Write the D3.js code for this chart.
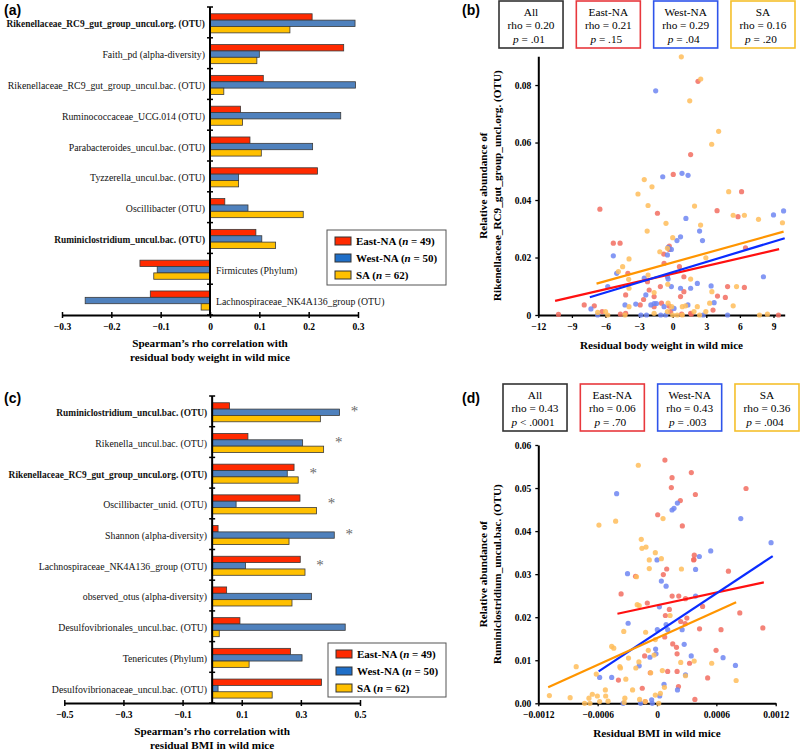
<!DOCTYPE html>
<html>
<head>
<meta charset="utf-8">
<script src="https://cdn.jsdelivr.net/npm/d3@7"></script>
<style>
  body { margin: 0; background: #fff; }
  svg { display: block; }
  text { font-family: "Liberation Serif", "Times New Roman", Times, serif; }
  .plab { font-family: "Liberation Sans", Arial, sans-serif; font-weight: bold; font-size: 14px; }
</style>
</head>
<body>
<svg id="fig" width="800" height="750"></svg>
<script>
// ---------- shared ----------
const groupNames = ["East-NA", "West-NA", "SA"];
const groupN = [49, 50, 62];

// ---------- (a) rho with residual body weight ----------
const aCategories = [
  "Rikenellaceae_RC9_gut_group_uncul.org. (OTU)",
  "Faith_pd (alpha-diversity)",
  "Rikenellaceae_RC9_gut_group_uncul.bac. (OTU)",
  "Ruminococcaceae_UCG.014 (OTU)",
  "Parabacteroides_uncul.bac. (OTU)",
  "Tyzzerella_uncul.bac. (OTU)",
  "Oscillibacter (OTU)",
  "Ruminiclostridium_uncul.bac. (OTU)",
  "Firmicutes (Phylum)",
  "Lachnospiraceae_NK4A136_group (OTU)"
];
const aBold = [1, 0, 0, 0, 0, 0, 0, 1, 0, 0];
const aEast = [0.207, 0.271, 0.108, 0.062, 0.081, 0.218, 0.030, 0.093, -0.142, -0.121];
const aWest = [0.294, 0.100, 0.295, 0.265, 0.208, 0.058, 0.077, 0.105, -0.107, -0.253];
const aSA   = [0.162, 0.095, 0.028, 0.066, 0.104, 0.058, 0.189, 0.133, -0.114, -0.018];
const aTicks = [-0.3, -0.2, -0.1, 0, 0.1, 0.2, 0.3];

// ---------- (c) rho with residual BMI ----------
const cCategories = [
  "Ruminiclostridium_uncul.bac. (OTU)",
  "Rikenella_uncul.bac. (OTU)",
  "Rikenellaceae_RC9_gut_group_uncul.org. (OTU)",
  "Oscillibacter_unid. (OTU)",
  "Shannon (alpha-diversity)",
  "Lachnospiraceae_NK4A136_group (OTU)",
  "observed_otus (alpha-diversity)",
  "Desulfovibrionales_uncul.bac. (OTU)",
  "Tenericutes (Phylum)",
  "Desulfovibrionaceae_uncul.bac. (OTU)"
];
const cBold = [1, 0, 1, 0, 0, 0, 0, 0, 0, 0];
const cStars = [1, 1, 1, 1, 1, 1, 0, 0, 0, 0];
const cEast = [0.059, 0.121, 0.277, 0.297, 0.020, 0.298, 0.049, 0.094, 0.265, 0.370];
const cWest = [0.431, 0.306, 0.254, 0.081, 0.413, 0.113, 0.336, 0.450, 0.304, 0.020];
const cSA   = [0.366, 0.377, 0.291, 0.353, 0.260, 0.314, 0.270, 0.024, 0.125, 0.203];
const cTicks = [-0.5, -0.3, -0.1, 0.1, 0.3, 0.5];

// ---------- stat boxes ----------
const statNames = ["All", "East-NA", "West-NA", "SA"];
const bRho = ["0.20", "0.21", "0.29", "0.16"];
const bP   = ["= .01", "= .15", "= .04", "= .20"];
const dRho = ["0.43", "0.06", "0.43", "0.36"];
const dP   = ["< .0001", "= .70", "= .003", "= .004"];

// ---------- (b) scatter: residual body weight vs Rikenellaceae RC9 ----------
const bEastPts = [[-10.2,0.0002],[-7.9,0.0035],[-7.0,0.0032],[-6.5,0.0368],[-6.3,0.0012],[-5.3,0.025],[-4.7,0.025],
  [-4.67,0.0003],[-4.2,0.0006],[-4.2,0.007],[-4.0,0.0145],[-2.9,0.0035],[-2.6,0.0054],[-2.25,0.0116],[-2.1,0.0087],
  [-1.66,0.0029],[-1.66,0.0064],[-1.36,0.0354],[-1.1,0.0099],[-1.0,0.0041],[-0.8,0.0212],[-0.77,0.018],[-0.33,0.0031],
  [-0.3,0.024],[-0.3,0.0228],[-0.18,0.0012],[0.05,0.0489],[0.6,0.0168],[0.7,0.0064],[0.8,0.0003],[1.0,0.0133],
  [1.0,0.0081],[1.6,0.0558],[1.6,0.0006],[1.66,0.0003],[2.26,0.0813],[3.6,0.0017],[3.96,0.0363],[4.0,0.0066],
  [4.7,0.0061],[4.9,0.0099],[5.83,0.0342],[6.15,0.0429],[6.4,0.0096],[6.5,0.0234],[9.44,0.0]];
const bWestPts = [[-7.3,0.0021],[-6.7,0],[-5.8,0.0099],[-5.3,0.0206],[-5.0,0.0145],[-4.26,0.0035],[-3.3,0.0038],
  [-2.84,0],[-2.54,0.0128],[-2.4,0.007],[-2.34,0],[-1.95,0.0035],[-1.66,0.004],[-1.45,0.004],[-1.52,0.078],[-1.07,0],
  [-0.89,0.0481],[-0.77,0.0029],[-0.62,0],[-0.47,0.0209],[-0.47,0.0133],[-0.41,0.0235],[-0.41,0.0125],[-0.12,0.0228],
  [-0.12,0.0099],[0.12,0.0023],[0.38,0.0259],[0.7,0.0272],[0.7,0.0093],[0.83,0.0493],[1.18,0.0336],[1.36,0.0035],
  [1.37,0.0486],[1.6,0.0093],[2.2,0.011],[2.4,0.0292],[2.66,0.0259],[2.72,0],[3.43,0.0101],[3.7,0.0043],[4.9,0],
  [8.1,0.0133],[9.0,0.0348],[9.9,0.0362]];
const bSAPts = [[-6.7,0.0009],[-6.0,0.0012],[-5.8,0],[-4.85,0.0151],[-4.47,0.0168],[-4.26,0],[-3.93,0.0124],
  [-3.9,0.0195],[-3.9,0.0093],[-3.9,0.0029],[-3.1,0.0421],[-2.54,0.0471],[-2.28,0.0292],[-2.2,0.0381],[-2.2,0.0139],
  [-1.85,0.0446],[-1.66,0.0078],[-1.66,0.0006],[-1.15,0.022],[-0.6,0.0319],[-0.47,0.0232],[-0.47,0.0012],
  [-0.44,0.0107],[-0.41,0.0041],[-0.09,0.0029],[0,0.0269],[0,0],[0.4,0],[0.77,0.0898],[0.86,0.0029],[0.86,0],
  [1.15,0.0032],[1.52,0.0745],[1.6,0.0125],[1.9,0.0012],[1.95,0.0379],[2.2,0.0029],[2.4,0],[2.49,0.0313],
  [2.5,0.0821],[2.96,0.0199],[2.96,0.0012],[3.3,0.0041],[3.48,0.0594],[3.5,0.0081],[4.1,0.0639],[5.0,0.0429],
  [5.4,0.0347],[5.4,0.0032],[5.7,0.0099],[6.4,0.0347],[7.66,0.0333],[7.75,0],[8.46,0.0003],[9.8,0.0321]];
const bEastFit = [[-10.5, 0.0049], [9.5, 0.0229]];
const bWestFit = [[-7.4, 0.0062], [10.0, 0.0267]];
const bSAFit   = [[-6.8, 0.0109], [9.9, 0.0290]];
const bXTicks = [-12, -9, -6, -3, 0, 3, 6, 9];
const bYTicks = [0, 0.02, 0.04, 0.06, 0.08];

// ---------- (d) scatter: residual BMI vs Ruminiclostridium ----------
const dEastPts = [[0.00008,0.0565],[0.000347,0.0536],[0.000152,0.0524],[0.000145,0.0501],[0.000388,0.0485],
  [0.0009,0.0499],[0.000236,0.0471],[0.000007,0.0438],[0.000256,0.0412],[0.000377,0.0344],[0.000371,0.0333],
  [-0.000217,0.0295],[0.000064,0.0299],[0.000098,0.0312],[0.000373,0.0334],[0.000722,0.0307],[-0.000363,0.0254],
  [-0.000098,0.0233],[0.000125,0.0218],[0.000153,0.0249],[0.00022,0.0249],[0.000288,0.0243],[0.000461,0.0225],
  [0.000837,0.021],[0.000085,0.0204],[0.00024,0.019],[0.000302,0.0198],[0.000285,0.0185],[0.00043,0.0173],
  [0.000647,0.0171],[0.00107,0.0175],[0.000078,0.0154],[0.000159,0.0138],[0.000197,0.013],[-0.000125,0.011],
  [0.000203,0.0115],[0.000329,0.0093],[0.000597,0.0123],[0.000512,0.0059],[0.000108,0.0074],[0.000203,0.0074],
  [-0.000068,0.0071],[-0.00039,0.0054],[-0.000149,0.0035],[0.000217,0.0039],[0.000383,0.0009],[-0.000119,0.0004]];
const dWestPts = [[-0.000408,0.0487],[0.000206,0.0465],[0.000172,0.0453],[0.000152,0.0449],[0.000847,0.0429],
  [0,0.0333],[0.000428,0.0341],[0.000543,0.0354],[0.001153,0.0373],[-0.000298,0.0301],[0.000044,0.0284],
  [0.000092,0.0272],[0.00039,0.0311],[-0.000292,0.0186],[0.000024,0.0224],[0.00039,0.0249],[0.000092,0.0183],
  [0.000254,0.0171],[0.000108,0.0171],[0.000003,0.0171],[-0.000014,0.0126],[-0.000071,0.0107],[-0.00001,0.0115],
  [0.000275,0.0137],[0.000346,0.011],[0.000668,0.0106],[0.000793,0.0088],[0.000288,0.0066],[-0.00018,0.0087],
  [-0.000458,0.006],[-0.00058,0.006],[-0.000342,0],[-0.000166,0],[-0.000054,0.0008],[-0.000048,0],
  [0.000027,0.0017],[0.000071,0.0044],[0.000207,0.0031]];
const dSAPts = [[-0.000189,0.0553],[0.000061,0.0429],[-0.000587,0.0414],[-0.000418,0.0423],[-0.000159,0.0381],
  [-0.000152,0.036],[-0.000111,0.0363],[-0.000017,0.035],[-0.000078,0.0333],[0.000044,0.0336],[-0.000207,0.0294],
  [0.000247,0.0312],[-0.000078,0.0313],[-0.0002,0.0229],[-0.00018,0.0227],[0.000132,0.0204],[-0.000336,0.0167],
  [-0.000115,0.0165],[-0.000017,0.0148],[-0.000458,0.0132],[-0.000437,0.0128],[-0.000288,0.0105],[-0.000088,0.0123],
  [-0.00003,0.0112],[0.000376,0.0098],[0.00024,0.0095],[0.000553,0.0093],[0.0008,0.0053],[0.000288,0.0064],
  [0.000054,0.0076],[-0.000064,0.0071],[-0.000183,0.0096],[-0.000214,0.0082],[-0.000376,0.0085],[-0.000369,0.0082],
  [-0.000315,0.0056],[-0.000817,0.0085],[-0.000614,0.0068],[-0.001088,0.0018],[-0.000878,0.0013],[-0.000732,0],
  [-0.000678,0],[-0.000654,0.0021],[-0.000688,0.0012],[-0.000603,0.0017],[-0.00058,0.0004],[-0.000522,0.0031],
  [-0.000519,0.0017],[-0.000495,0.0005],[-0.000325,0.0012],[-0.000332,0.0002],[-0.000247,0.0031],[-0.000176,0.0009],
  [-0.000119,0.0004],[-0.000017,0.0019],[0.000034,0.0023],[0.000075,0.0037],[0.000017,0]];
const dEastFit = [[-0.0004, 0.0208], [0.00108, 0.0281]];
const dWestFit = [[-0.00059, 0.0074], [0.00117, 0.0342]];
const dSAFit   = [[-0.0011, 0.0037], [0.0008, 0.0235]];
const dXTicks = [-0.0012, -0.0006, 0, 0.0006, 0.0012];
const dYTicks = [0, 0.01, 0.02, 0.03, 0.04, 0.05, 0.06];

// ---------- styles ----------
const serif = '"Liberation Serif","Times New Roman",Times,serif';
const barFill = ["#ff2a00", "#4f81bd", "#ffc000"];
const legendFill = ["#ff2a00", "#1f6fc8", "#ffc000"];
const dotFill = ["#f26d60", "#6f86f2", "#ffbd5a"];
const lineColor = ["#ff1010", "#0a2cff", "#ff9500"];
const boxStroke = ["#333333", "#e8383d", "#2f54eb", "#f5c02c"];

const svg = d3.select("#fig");
svg.append("rect").attr("width", 800).attr("height", 750).attr("fill", "#fff");

function barPanel(o) {
  const g = svg.append("g");
  const x = d3.scaleLinear().domain(o.xDomain).range(o.xRange);
  const y = d3.scaleBand().domain(o.categories).range(o.yRange);
  const yi = d3.scaleBand().domain(groupNames)
    .range([y.bandwidth() * 0.22, y.bandwidth() * 0.84]);
  const series = [o.east, o.west, o.sa];

  const cells = [];
  o.categories.forEach((c, i) => series.forEach((s, k) => cells.push({c: c, k: k, v: s[i]})));

  g.append("g").selectAll("rect").data(cells).join("rect")
    .attr("x", d => x(Math.min(0, d.v)))
    .attr("y", d => y(d.c) + yi(groupNames[d.k]))
    .attr("width", d => Math.abs(x(d.v) - x(0)))
    .attr("height", yi.bandwidth())
    .attr("fill", d => barFill[d.k])
    .attr("stroke", "#3a3a3a")
    .attr("stroke-width", 0.8);

  // category labels, on the right of the axis when every bar is negative
  const neg = i => Math.max(o.east[i], o.west[i], o.sa[i]) < 0;
  g.append("g").selectAll("text").data(o.categories).join("text")
    .attr("x", (d, i) => neg(i) ? x(0) + 6 : x(0) - 5)
    .attr("y", d => y(d) + y.bandwidth() / 2 + 1.5)
    .attr("dy", "0.35em")
    .attr("text-anchor", (d, i) => neg(i) ? "start" : "end")
    .attr("font-weight", (d, i) => o.bold[i] ? "bold" : "normal")
    .attr("font-size", (d, i) => o.bold[i] ? 9.4 : 9.8)
    .attr("fill", "#111")
    .text(d => d);

  // significance stars
  if (o.stars) {
    g.append("g").selectAll("text")
      .data(o.categories.filter((c, i) => o.stars[i]))
      .join("text")
      .attr("x", d => {
        const i = o.categories.indexOf(d);
        return x(Math.max(o.east[i], o.west[i], o.sa[i])) + 15;
      })
      .attr("y", d => y(d) + y.bandwidth() / 2 + 5)
      .attr("text-anchor", "middle")
      .attr("font-family", serif)
      .attr("font-size", 15)
      .attr("fill", "#6a6a6a")
      .text("*");
  }

  // x axis
  const ax = g.append("g")
    .attr("transform", `translate(0,${o.yRange[1]})`)
    .call(d3.axisBottom(x).tickValues(o.ticks).tickFormat(o.fmt).tickSize(3).tickSizeOuter(0));
  ax.attr("font-family", serif).attr("font-size", 9.5).attr("font-weight", "bold");
  ax.select(".domain").attr("stroke", "#000").attr("stroke-width", 2);
  ax.selectAll(".tick line").attr("y1", -3).attr("y2", 3).attr("stroke-width", 1.5);
  ax.selectAll(".tick text").attr("y", 8.5).attr("fill", "#000");

  // vertical axis at zero with group separators
  g.append("line")
    .attr("x1", x(0)).attr("x2", x(0))
    .attr("y1", o.yRange[0]).attr("y2", o.yRange[1])
    .attr("stroke", "#000").attr("stroke-width", 2);
  const seps = o.categories.map(c => y(c)).concat([o.yRange[1]]);
  g.append("g").selectAll("line").data(seps).join("line")
    .attr("x1", x(0) - 3).attr("x2", x(0) + 3)
    .attr("y1", d => d).attr("y2", d => d)
    .attr("stroke", "#000").attr("stroke-width", 1.5);

  // axis title
  g.append("g").selectAll("text").data(o.title).join("text")
    .attr("x", (o.xRange[0] + o.xRange[1]) / 2)
    .attr("y", (d, i) => o.yRange[1] + 32 + i * 13.5)
    .attr("text-anchor", "middle")
    .attr("font-weight", "bold")
    .attr("font-size", 11.2)
    .text(d => d);

  // legend
  const [lx, ly, lw, lh] = o.legend;
  const lg = g.append("g");
  lg.append("rect").attr("x", lx).attr("y", ly).attr("width", lw).attr("height", lh)
    .attr("fill", "#fff").attr("stroke", "#555").attr("stroke-width", 1);
  const items = lg.selectAll("g").data(groupNames).join("g")
    .attr("transform", (d, i) => `translate(${lx + 8},${ly + 11 + i * 17})`);
  items.append("rect").attr("x", 0).attr("y", -4).attr("width", 16).attr("height", 8)
    .attr("fill", (d, i) => legendFill[i]).attr("stroke", "#333").attr("stroke-width", 1);
  const lt = items.append("text").attr("x", 21).attr("y", 4)
    .attr("font-weight", "bold").attr("font-size", 11);
  lt.append("tspan").text(d => d + " (");
  lt.append("tspan").attr("font-style", "italic").text("n");
  lt.append("tspan").text((d, i) => " = " + groupN[i] + ")");
}

function scatterPanel(o) {
  const g = svg.append("g");
  const x = d3.scaleLinear().domain(o.xDomain).range(o.xRange);
  const y = d3.scaleLinear().domain(o.yDomain).range(o.yRange);

  // stat boxes
  const bx = d3.scaleBand().domain(statNames).range(o.boxRange).paddingInner(0.172);
  const boxes = g.append("g").selectAll("g").data(statNames).join("g")
    .attr("transform", d => `translate(${bx(d)},${o.boxTop})`);
  boxes.append("rect").attr("width", bx.bandwidth()).attr("height", 47)
    .attr("fill", "#fff").attr("stroke", (d, i) => boxStroke[i]).attr("stroke-width", 1.6);
  boxes.append("text").attr("x", bx.bandwidth() / 2).attr("y", 14.5)
    .attr("text-anchor", "middle").attr("font-size", 11.3).text(d => d);
  boxes.append("text").attr("x", bx.bandwidth() / 2).attr("y", 28)
    .attr("text-anchor", "middle").attr("font-size", 11.3).text((d, i) => "rho = " + o.rho[i]);
  const pt = boxes.append("text").attr("x", bx.bandwidth() / 2 - 2).attr("y", 41.5)
    .attr("text-anchor", "middle").attr("font-size", 11.3);
  pt.append("tspan").attr("font-style", "italic").text("p");
  pt.append("tspan").text((d, i) => " " + o.p[i]);

  // axes
  const xa = g.append("g")
    .attr("transform", `translate(0,${o.yRange[0]})`)
    .call(d3.axisBottom(x).tickValues(o.xTicks).tickFormat(o.xFmt).tickSize(3).tickSizeOuter(0));
  const ya = g.append("g")
    .attr("transform", `translate(${o.xRange[0]},0)`)
    .call(d3.axisLeft(y).tickValues(o.yTicks).tickFormat(o.yFmt).tickSize(3).tickSizeOuter(0));
  [xa, ya].forEach(a => {
    a.attr("font-family", serif).attr("font-size", 9.5).attr("font-weight", "bold");
    a.select(".domain").attr("stroke", "#000").attr("stroke-width", 2);
    a.selectAll(".tick line").attr("stroke-width", 1.3);
    a.selectAll(".tick text").attr("fill", "#000");
  });
  xa.selectAll(".tick text").attr("y", 8);
  ya.selectAll(".tick text").attr("x", -7);

  // points
  [o.east, o.west, o.sa].forEach((pts, k) => {
    g.append("g").selectAll("circle").data(pts).join("circle")
      .attr("cx", d => x(d[0]))
      .attr("cy", d => y(d[1]))
      .attr("r", 2.6)
      .attr("fill", dotFill[k])
      .attr("fill-opacity", 0.85);
  });

  // fitted lines
  const line = d3.line().x(d => x(d[0])).y(d => y(d[1]));
  [o.eastFit, o.westFit, o.saFit].forEach((f, k) => {
    g.append("path").attr("d", line(f)).attr("fill", "none")
      .attr("stroke", lineColor[k]).attr("stroke-width", 2.2);
  });

  // titles
  g.append("text")
    .attr("x", (o.xRange[0] + o.xRange[1]) / 2)
    .attr("y", o.yRange[0] + 34)
    .attr("text-anchor", "middle").attr("font-weight", "bold").attr("font-size", 11.2)
    .text(o.xTitle);
  const cy = (o.yRange[0] + o.yRange[1]) / 2;
  o.yTitle.forEach((t, i) => {
    g.append("text")
      .attr("transform", `translate(${483 + i * 14},${cy}) rotate(-90)`)
      .attr("dy", "0.35em")
      .attr("text-anchor", "middle").attr("font-weight", "bold").attr("font-size", 11.2)
      .text(t);
  });
}

const fmtRho = d => d === 0 ? "0" : d3.format(".1f")(d);

barPanel({
  categories: aCategories, bold: aBold, east: aEast, west: aWest, sa: aSA,
  xDomain: [-0.3, 0.3], xRange: [62, 358], yRange: [7, 315],
  ticks: aTicks, fmt: fmtRho,
  title: ["Spearman\u2019s rho correlation with", "residual body weight in wild mice"],
  legend: [327, 230, 119, 55]
});

barPanel({
  categories: cCategories, bold: cBold, stars: cStars, east: cEast, west: cWest, sa: cSA,
  xDomain: [-0.5, 0.5], xRange: [64.3, 360], yRange: [396, 703],
  ticks: cTicks, fmt: fmtRho,
  title: ["Spearman\u2019s rho correlation with", "residual BMI in wild mice"],
  legend: [328, 643, 118, 54]
});

scatterPanel({
  east: bEastPts, west: bWestPts, sa: bSAPts,
  eastFit: bEastFit, westFit: bWestFit, saFit: bSAFit,
  xDomain: [-12, 10], xRange: [538.3, 784.7],
  yDomain: [0, 0.09], yRange: [315, 56.3],
  xTicks: bXTicks, yTicks: bYTicks,
  xFmt: d3.format("d"), yFmt: d => d === 0 ? "0" : d3.format(".2f")(d),
  rho: bRho, p: bP, boxRange: [499, 795], boxTop: 1,
  xTitle: "Residual body weight in wild mice",
  yTitle: ["Relative abundance of", "Rikenellaceae_RC9_gut_group_uncl.org. (OTU)"]
});

scatterPanel({
  east: dEastPts, west: dWestPts, sa: dSAPts,
  eastFit: dEastFit, westFit: dWestFit, saFit: dSAFit,
  xDomain: [-0.0012, 0.0012], xRange: [538.3, 775.7],
  yDomain: [0, 0.06], yRange: [703.3, 445],
  xTicks: dXTicks, yTicks: dYTicks,
  xFmt: d => d === 0 ? "0" : d3.format(".4f")(d), yFmt: d3.format(".2f"),
  rho: dRho, p: dP, boxRange: [503, 799], boxTop: 384,
  xTitle: "Residual BMI in wild mice",
  yTitle: ["Relative abundance of", "Ruminiclostridium_uncul.bac. (OTU)"]
});

// panel letters
svg.append("text").attr("class", "plab").attr("x", 4).attr("y", 15).text("(a)");
svg.append("text").attr("class", "plab").attr("x", 462).attr("y", 15).text("(b)");
svg.append("text").attr("class", "plab").attr("x", 4).attr("y", 403).text("(c)");
svg.append("text").attr("class", "plab").attr("x", 462).attr("y", 403).text("(d)");
</script>
</body>
</html>
